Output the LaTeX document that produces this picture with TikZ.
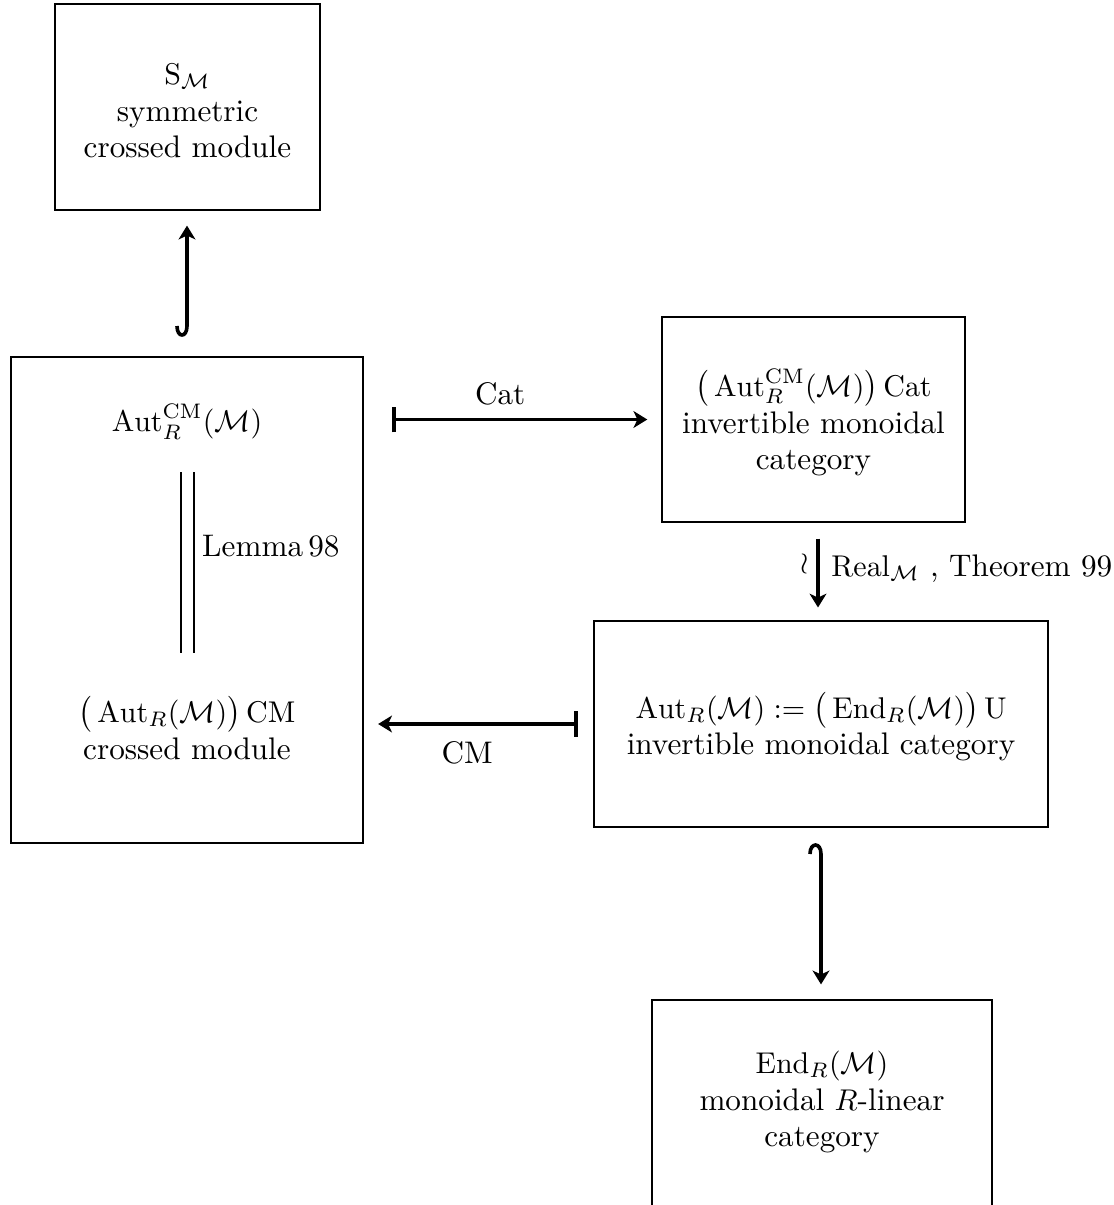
\documentclass[tikz,border=0pt]{standalone}
\usetikzlibrary{arrows.meta}
\begin{document}
\begin{tikzpicture}[x=0.33333pt,y=-0.33333pt,
  every node/.style={font=\fontsize{10.4pt}{12.3pt}\selectfont},
  box/.style={draw, line width=0.4pt, inner sep=0pt},
  txt/.style={align=center},
  tipS/.tip={Stealth[length=4.6pt,width=5.6pt,inset=1.3pt]},
  arr/.style={line width=1.2pt, -tipS},
  mapsto/.style={line width=1.2pt, {Bar[width=8.6pt]}-tipS},
  eq/.style={double, double distance=3.8pt, line width=0.55pt}]
\useasboundingbox (0,0) rectangle (1113,1205);
\clip (0,0) rectangle (1113,1205);
% boxes
\node[box, minimum width=88.33pt, minimum height=68.67pt] (sbox) at (187.5,107) {};
\node[box, minimum width=101pt, minimum height=68.33pt] (catbox) at (813.5,419.5) {};
\node[box, minimum width=151.33pt, minimum height=68.67pt] (ubox) at (821,724) {};
\node[box, minimum width=113.33pt, minimum height=69pt] (endbox) at (822,1103.5) {};
\node[draw, line width=0.7pt, minimum width=117.33pt, minimum height=162pt, inner sep=0pt] (lbox) at (187,600) {};
% texts
\node[txt] (stext) at (187.5,111) {$\mathrm{S}_{\mathcal{M}}$\\ symmetric\\ crossed module};
\node[txt] (cattext) at (813.5,422.5)
  {$\bigl(\,\mathrm{Aut}^{\mathrm{CM}}_R(\mathcal{M})\bigr)\,\mathrm{Cat}$\\ invertible monoidal\\ category};
\node[txt] (utext) at (821,727)
  {$\mathrm{Aut}_R(\mathcal{M}) := \bigl(\,\mathrm{End}_R(\mathcal{M})\bigr)\,\mathrm{U}$\\ invertible monoidal category};
\node[txt] (endtext) at (822,1102) {$\mathrm{End}_R(\mathcal{M})$\\ monoidal $R$-linear\\ category};
\node (autcm) at (187,422) {$\mathrm{Aut}^{\mathrm{CM}}_R(\mathcal{M})$};
\node[txt] (cmmod) at (187,728) {$\bigl(\,\mathrm{Aut}_R(\mathcal{M})\bigr)\,\mathrm{CM}$\\ crossed module};
% double line (equality)
\coordinate (d1) at (187.5,472);
\coordinate (d2) at (187.5,653);
\draw[eq] (d1) -- (d2) node[pos=0.41, right=1.3pt] {Lemma\,98};
% hooked arrows
\coordinate (hu) at (177,326);
\draw[arr, shorten >=5pt] (hu) .. controls +(0,12) and +(0,12) .. ++(10,0) -- (lbox.north |- sbox.south);
\coordinate (hd) at (810,854);
\draw[arr, shorten >=5pt] (hd) .. controls +(0,-12) and +(0,-12) .. ++(11,0) -- (ubox.south |- endbox.north);
% mapsto arrows
\draw[mapsto, shorten <=9.3pt, shorten >=4.7pt] (lbox.east |- catbox.west) -- (catbox.west)
  node[pos=0.458, above=1pt] {Cat};
\draw[mapsto, shorten <=5.3pt, shorten >=4.7pt] (ubox.west) -- (ubox.west -| lbox.east)
  node[pos=0.55, below=2pt] {CM};
% realization
\draw[arr, shorten <=5.3pt, shorten >=4.3pt] ([xshift=1.5pt]catbox.south) -- ([xshift=1.5pt]catbox.south |- ubox.north)
  node[pos=0.47, right=0.5pt] {$\mathrm{Real}_{\mathcal{M}}$ , Theorem 99}
  node[pos=0.42, left=-1pt] {$\wr$};
\end{tikzpicture}
\end{document}
